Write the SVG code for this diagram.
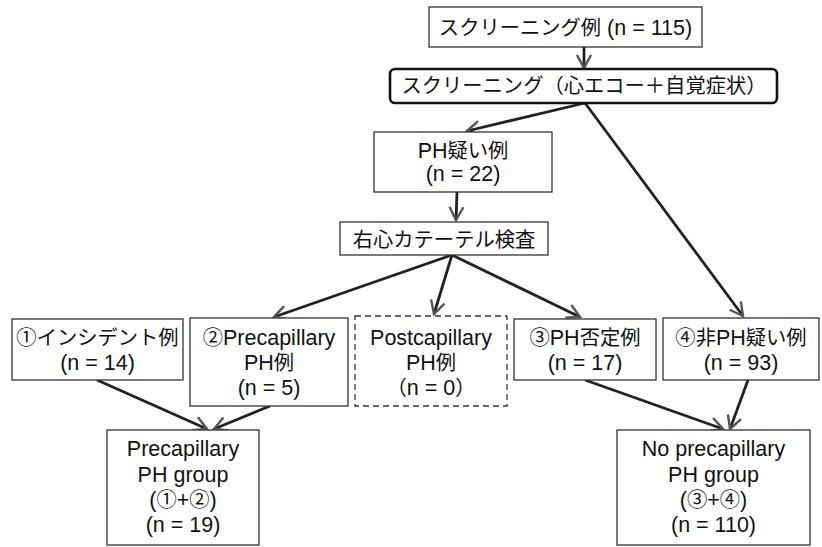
<svg xmlns="http://www.w3.org/2000/svg" width="822" height="547" viewBox="0 0 822 547">
<defs>
<style>
.box{fill:#fff;stroke:#333;stroke-width:1.3}
.dash{fill:#fff;stroke:#333;stroke-width:1.3;stroke-dasharray:6 4}
.bold{fill:#fff;stroke:#111;stroke-width:2.6}
text{font-family:"Liberation Sans","Noto Sans CJK JP",sans-serif;font-size:20px;fill:#111;text-anchor:middle}
.l{font-size:21.5px}
.c{font-size:20.3px}
.conn line{stroke:#222;stroke-width:2.8;marker-end:url(#ah)}
</style>
<marker id="ah" viewBox="-16 -9 18 18" refX="0" refY="0" markerWidth="18" markerHeight="18" markerUnits="userSpaceOnUse" orient="auto">
<path d="M-13,-7 L0,0 L-13,7" fill="none" stroke="#555" stroke-width="2.4"/>
</marker>
</defs>
<rect width="822" height="547" fill="#fff"/>
<g class="conn" id="connectors">
<line x1="584" y1="47" x2="584" y2="68"/>
<line x1="585" y1="103" x2="467" y2="131"/>
<line x1="585" y1="103" x2="743" y2="316"/>
<line x1="457" y1="192" x2="456" y2="220"/>
<line x1="452" y1="255" x2="274" y2="317"/>
<line x1="452" y1="255" x2="434" y2="314"/>
<line x1="452" y1="255" x2="580" y2="317"/>
<line x1="97" y1="380" x2="207" y2="429"/>
<line x1="270" y1="406" x2="214" y2="429"/>
<line x1="585" y1="380" x2="723" y2="429"/>
<line x1="748" y1="380" x2="730" y2="429"/>
</g>
<g id="n1"><rect class="box" x="429" y="7" width="273" height="40"/>
<text x="565.5" y="35"><tspan class="c">スクリーニング例</tspan><tspan class="l"> (n = 115)</tspan></text></g>
<g id="n2"><rect class="bold" x="390" y="69" width="387" height="34" rx="5"/>
<text class="c" x="584" y="93">スクリーニング（心エコー＋自覚症状）</text></g>
<g id="n3"><rect class="box" x="374" y="132" width="178" height="60"/>
<text x="463" y="158"><tspan class="l">PH</tspan><tspan class="c">疑い例</tspan></text>
<text class="l" x="463" y="181">(n = 22)</text></g>
<g id="n4"><rect class="box" x="340" y="222" width="208" height="33"/>
<text class="c" x="444" y="247">右心カテーテル検査</text></g>
<g id="n5"><rect class="box" x="12" y="319" width="171" height="61"/>
<text class="c" x="97.5" y="345">①インシデント例</text>
<text class="l" x="97.5" y="370">(n = 14)</text></g>
<g id="n6"><rect class="box" x="190" y="318" width="158" height="88"/>
<text x="269" y="345"><tspan class="c">②</tspan><tspan class="l">Precapillary</tspan></text>
<text x="269" y="370"><tspan class="l">PH</tspan><tspan class="c">例</tspan></text>
<text class="l" x="269" y="395">(n = 5)</text></g>
<g id="n7"><rect class="dash" x="355" y="316" width="152" height="90"/>
<text class="l" x="431" y="345">Postcapillary</text>
<text x="431" y="370"><tspan class="l">PH</tspan><tspan class="c">例</tspan></text>
<text x="431" y="395"><tspan class="c">（</tspan><tspan class="l">n = 0</tspan><tspan class="c">）</tspan></text></g>
<g id="n8"><rect class="box" x="514" y="319" width="142" height="61"/>
<text x="585" y="345"><tspan class="c">③</tspan><tspan class="l">PH</tspan><tspan class="c">否定例</tspan></text>
<text class="l" x="585" y="370">(n = 17)</text></g>
<g id="n9"><rect class="box" x="663" y="318" width="156" height="62"/>
<text x="741" y="345"><tspan class="c">④非</tspan><tspan class="l">PH</tspan><tspan class="c">疑い例</tspan></text>
<text class="l" x="741" y="370">(n = 93)</text></g>
<g id="n10"><rect class="box" x="107" y="430" width="152" height="115"/>
<text class="l" x="183" y="456">Precapillary</text>
<text class="l" x="183" y="482">PH group</text>
<text x="183" y="507"><tspan class="l">(</tspan><tspan class="c">①</tspan><tspan class="l">+</tspan><tspan class="c">②</tspan><tspan class="l">)</tspan></text>
<text class="l" x="183" y="532">(n = 19)</text></g>
<g id="n11"><rect class="box" x="617" y="430" width="193" height="115"/>
<text class="l" x="713.5" y="456">No precapillary</text>
<text class="l" x="713.5" y="482">PH group</text>
<text x="713.5" y="507"><tspan class="l">(</tspan><tspan class="c">③</tspan><tspan class="l">+</tspan><tspan class="c">④</tspan><tspan class="l">)</tspan></text>
<text class="l" x="713.5" y="532">(n = 110)</text></g>
</svg>
